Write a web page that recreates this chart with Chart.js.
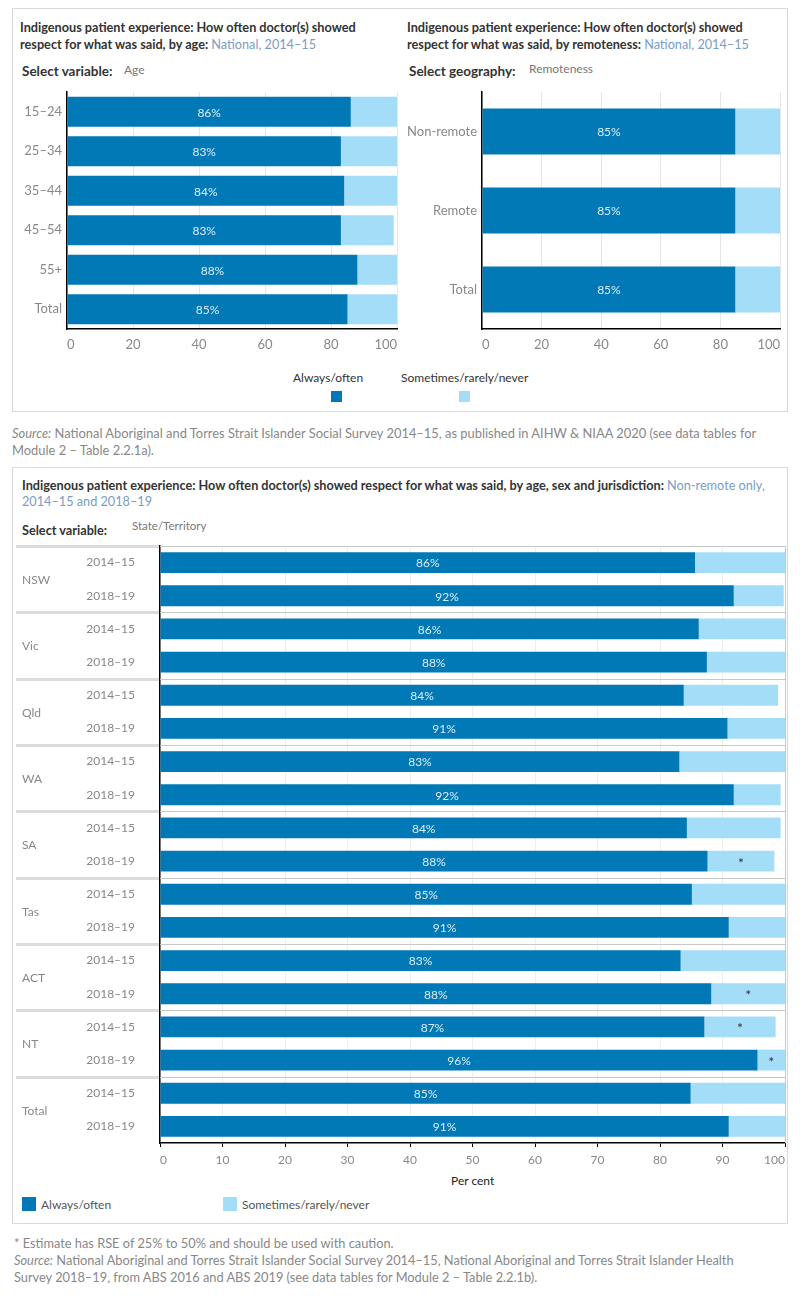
<!DOCTYPE html>
<html>
<head>
<meta charset="utf-8">
<script src="https://cdn.jsdelivr.net/npm/chart.js@4.4.1/dist/chart.umd.min.js"></script>
<style>
  body { margin: 0; width: 800px; height: 1300px; background: #fff; position: relative; font-family: Lato, "Open Sans", sans-serif; color: #333; }
  .abs { position: absolute; white-space: nowrap; }
  .panel { position: absolute; border: 1px solid #d9d9d9; box-sizing: border-box; }
  .title { font-size: 12.7px; font-weight: bold; line-height: 17px; color: #333; }
  .title span { font-weight: normal; color: #7a9cc6; }
  .sel { font-size: 13.5px; font-weight: bold; color: #333; }
  .selv { font-size: 12px; color: #777; }
  .leg { font-size: 12px; color: #333; }
  .sq { position: absolute; width: 11px; height: 11px; }
  .note { font-size: 12.9px; color: #888; line-height: 17px; }
  canvas { position: absolute; }
</style>
</head>
<body>

<div class="panel" style="left:12px;top:8px;width:776px;height:404px;"></div>

<div class="abs title" style="left:20px;top:19px;">Indigenous patient experience: How often doctor(s) showed<br>respect for what was said, by age: <span>National, 2014–15</span></div>
<div class="abs sel" style="left:22px;top:63px;">Select variable:</div>
<div class="abs selv" style="left:124px;top:62px;">Age</div>

<div class="abs title" style="left:407px;top:19px;">Indigenous patient experience: How often doctor(s) showed<br>respect for what was said, by remoteness: <span>National, 2014–15</span></div>
<div class="abs sel" style="left:409px;top:63px;">Select geography:</div>
<div class="abs selv" style="left:529px;top:61px;">Remoteness</div>

<canvas id="ageChart" width="395" height="270" style="left:12px;top:88px;"></canvas>
<canvas id="remChart" width="385" height="270" style="left:405px;top:88px;"></canvas>

<div class="abs leg" style="left:293px;top:370px;">Always/often</div>
<div class="sq" style="left:331px;top:391px;background:#0079b6;"></div>
<div class="abs leg" style="left:401px;top:370px;">Sometimes/rarely/never</div>
<div class="sq" style="left:459px;top:391px;background:#a4ddf7;"></div>

<div class="abs note" style="left:12px;top:425px;"><i>Source:</i> National Aboriginal and Torres Strait Islander Social Survey 2014–15, as published in AIHW &amp; NIAA 2020 (see data tables for<br>Module 2 – Table 2.2.1a).</div>

<div class="panel" style="left:12px;top:467px;width:776px;height:757px;"></div>

<div class="abs title" style="left:22px;top:477px;font-size:12.7px;line-height:16px;">Indigenous patient experience: How often doctor(s) showed respect for what was said, by age, sex and jurisdiction: <span>Non-remote only,</span><br><span>2014–15 and 2018–19</span></div>
<div class="abs sel" style="left:22px;top:522px;font-size:12.7px;">Select variable:</div>
<div class="abs selv" style="left:132px;top:519px;font-size:11.5px;">State/Territory</div>

<canvas id="stateChart" width="778" height="633" style="left:12px;top:540px;"></canvas>

<div class="abs leg" style="left:451px;top:1173px;color:#222;">Per cent</div>
<div class="sq" style="left:22px;top:1197px;width:14px;height:14px;background:#0079b6;"></div>
<div class="abs leg" style="left:41px;top:1197px;color:#555;">Always/often</div>
<div class="sq" style="left:223px;top:1197px;width:14px;height:14px;background:#a4ddf7;"></div>
<div class="abs leg" style="left:242px;top:1197px;color:#555;">Sometimes/rarely/never</div>

<div class="abs note" style="left:14px;top:1235px;font-size:12.8px;">* Estimate has RSE of 25% to 50% and should be used with caution.<br><i>Source:</i> National Aboriginal and Torres Strait Islander Social Survey 2014–15, National Aboriginal and Torres Strait Islander Health<br>Survey 2018–19, from ABS 2016 and ABS 2019 (see data tables for Module 2 – Table 2.2.1b).</div>

<script>
// --- data ---
const ageLabels = ["15–24", "25–34", "35–44", "45–54", "55+", "Total"];
const ageAlways = [86, 83, 84, 83, 88, 85];
const ageSometimes = [14, 17, 16, 16, 12, 15];

const remLabels = ["Non-remote", "Remote", "Total"];
const remAlways = [85, 85, 85];
const remSometimes = [15, 15, 15];

const states = ["NSW", "Vic", "Qld", "WA", "SA", "Tas", "ACT", "NT", "Total"];
const years = ["2014–15", "2018–19"];
const stateAlways = [85.6, 91.8, 86.2, 87.5, 83.8, 90.8, 83.1, 91.8, 84.3, 87.6, 85.1, 91.0, 83.3, 88.2, 87.1, 95.6, 84.9, 91.0];
const stateSometimes = [14.4, 8.0, 13.8, 12.5, 15.1, 9.2, 16.9, 7.5, 15.0, 10.7, 14.9, 9.0, 16.7, 11.8, 11.4, 4.4, 15.1, 9.0];
const stateCaution = [0, 0, 0, 0, 0, 0, 0, 0, 0, 1, 0, 0, 0, 1, 1, 1, 0, 0];

const DARK = "#0079b6";
const LIGHT = "#a4ddf7";
const FONT = "Lato, 'Open Sans', sans-serif";

// value labels inside the dark bars, asterisks in the light ones
const barText = {
  id: "barText",
  afterDatasetsDraw(chart, args, opts) {
    const ctx = chart.ctx;
    ctx.save();
    ctx.font = (opts.size || 12) + "px " + FONT;
    ctx.textAlign = "center";
    ctx.textBaseline = "middle";
    const m0 = chart.getDatasetMeta(0);
    m0.data.forEach((bar, i) => {
      ctx.fillStyle = "#dcecf7";
      ctx.fillText(Math.round(chart.data.datasets[0].data[i]) + "%", (bar.x + bar.base) / 2, bar.y + 1);
    });
    const flags = opts.caution || [];
    const m1 = chart.getDatasetMeta(1);
    m1.data.forEach((bar, i) => {
      if (!flags[i]) return;
      ctx.fillStyle = "#333";
      ctx.font = "14px " + FONT;
      ctx.fillText("*", (bar.x + bar.base) / 2, bar.y + 2);
    });
    ctx.restore();
  }
};

// fixed axis sizes, and no extra label padding around the plot
const fixX = h => s => { s.height = h; s.paddingLeft = 0; s.paddingRight = 0; };
const fixY = w => s => { s.width = w; s.paddingTop = 0; s.paddingBottom = 0; };

function stackedOpts(yWidth, padRight, barPct) {
  return {
    responsive: false,
    animation: false,
    indexAxis: "y",
    layout: { padding: { top: 4, right: padRight, left: 0, bottom: 0 } },
    plugins: { legend: { display: false }, tooltip: { enabled: false }, barText: { size: 12 } },
    datasets: { bar: { barPercentage: barPct, categoryPercentage: 1 } },
    scales: {
      x: {
        stacked: true, min: 0, max: 100,
        afterFit: fixX(29),
        grid: { color: "#e6e6e6", drawTicks: false },
        border: { display: true, color: "#000", width: 1.5 },
        ticks: { stepSize: 20, padding: 8, align: "inner", color: "#888", font: { family: FONT, size: 13 } }
      },
      y: {
        stacked: true,
        afterFit: fixY(yWidth),
        grid: { display: false, drawTicks: false },
        border: { display: true, color: "#000", width: 1.5 },
        ticks: { padding: 5, color: "#888", font: { family: FONT, size: 13 } }
      }
    }
  };
}

new Chart(document.getElementById("ageChart"), {
  type: "bar",
  data: {
    labels: ageLabels,
    datasets: [
      { label: "Always/often", data: ageAlways, backgroundColor: DARK },
      { label: "Sometimes/rarely/never", data: ageSometimes, backgroundColor: LIGHT }
    ]
  },
  options: stackedOpts(55, 10, 0.76),
  plugins: [barText]
});

new Chart(document.getElementById("remChart"), {
  type: "bar",
  data: {
    labels: remLabels,
    datasets: [
      { label: "Always/often", data: remAlways, backgroundColor: DARK },
      { label: "Sometimes/rarely/never", data: remSometimes, backgroundColor: LIGHT }
    ]
  },
  options: stackedOpts(77, 10, 0.58),
  plugins: [barText]
});

// group labels and separators for the state chart
const stateGroups = {
  id: "stateGroups",
  afterDraw(chart) {
    const { ctx, chartArea: a } = chart;
    const rowH = (a.bottom - a.top) / (states.length * years.length);
    ctx.save();
    for (let g = 0; g < states.length; g++) {
      const y = Math.round(a.top + g * years.length * rowH) + 0.5;
      ctx.strokeStyle = "#dcdcdc";
      ctx.lineWidth = 3;
      ctx.beginPath(); ctx.moveTo(4, y); ctx.lineTo(a.left - 1, y); ctx.stroke();
      ctx.strokeStyle = "#c8c8c8";
      ctx.lineWidth = 1;
      ctx.beginPath(); ctx.moveTo(a.left, y); ctx.lineTo(a.right, y); ctx.stroke();
    }
    ctx.strokeStyle = "#c8c8c8";
    ctx.lineWidth = 1;
    ctx.beginPath(); ctx.moveTo(a.right + 0.5, a.top); ctx.lineTo(a.right + 0.5, a.bottom); ctx.stroke();
    ctx.font = "12px " + FONT;
    ctx.fillStyle = "#888";
    ctx.textAlign = "left";
    ctx.textBaseline = "middle";
    states.forEach((s, g) => {
      ctx.fillText(s, 10, a.top + (g * years.length + 1) * rowH + 1);
    });
    ctx.restore();
  }
};

const rowLabels = [];
states.forEach(() => years.forEach(y => rowLabels.push(y)));

new Chart(document.getElementById("stateChart"), {
  type: "bar",
  data: {
    labels: rowLabels,
    datasets: [
      { label: "Always/often", data: stateAlways, backgroundColor: DARK },
      { label: "Sometimes/rarely/never", data: stateSometimes, backgroundColor: LIGHT }
    ]
  },
  options: {
    responsive: false,
    animation: false,
    indexAxis: "y",
    layout: { padding: { top: 6, right: 5, left: 0, bottom: 0 } },
    plugins: { legend: { display: false }, tooltip: { enabled: false }, barText: { size: 12, caution: stateCaution } },
    datasets: { bar: { barPercentage: 0.63, categoryPercentage: 1 } },
    scales: {
      x: {
        stacked: true, min: 0, max: 100,
        afterFit: fixX(30),
        grid: { color: "#eeeeee", tickColor: "#000", tickLength: 4 },
        border: { display: true, color: "#000", width: 1.5 },
        ticks: { stepSize: 10, padding: 6, align: "inner", color: "#888", font: { family: FONT, size: 12 } }
      },
      y: {
        stacked: true,
        afterFit: fixY(148),
        grid: { display: false, drawTicks: false },
        border: { display: true, color: "#000", width: 1.5 },
        ticks: { padding: 25, color: "#888", font: { family: FONT, size: 12 } }
      }
    }
  },
  plugins: [barText, stateGroups]
});
</script>
</body>
</html>
